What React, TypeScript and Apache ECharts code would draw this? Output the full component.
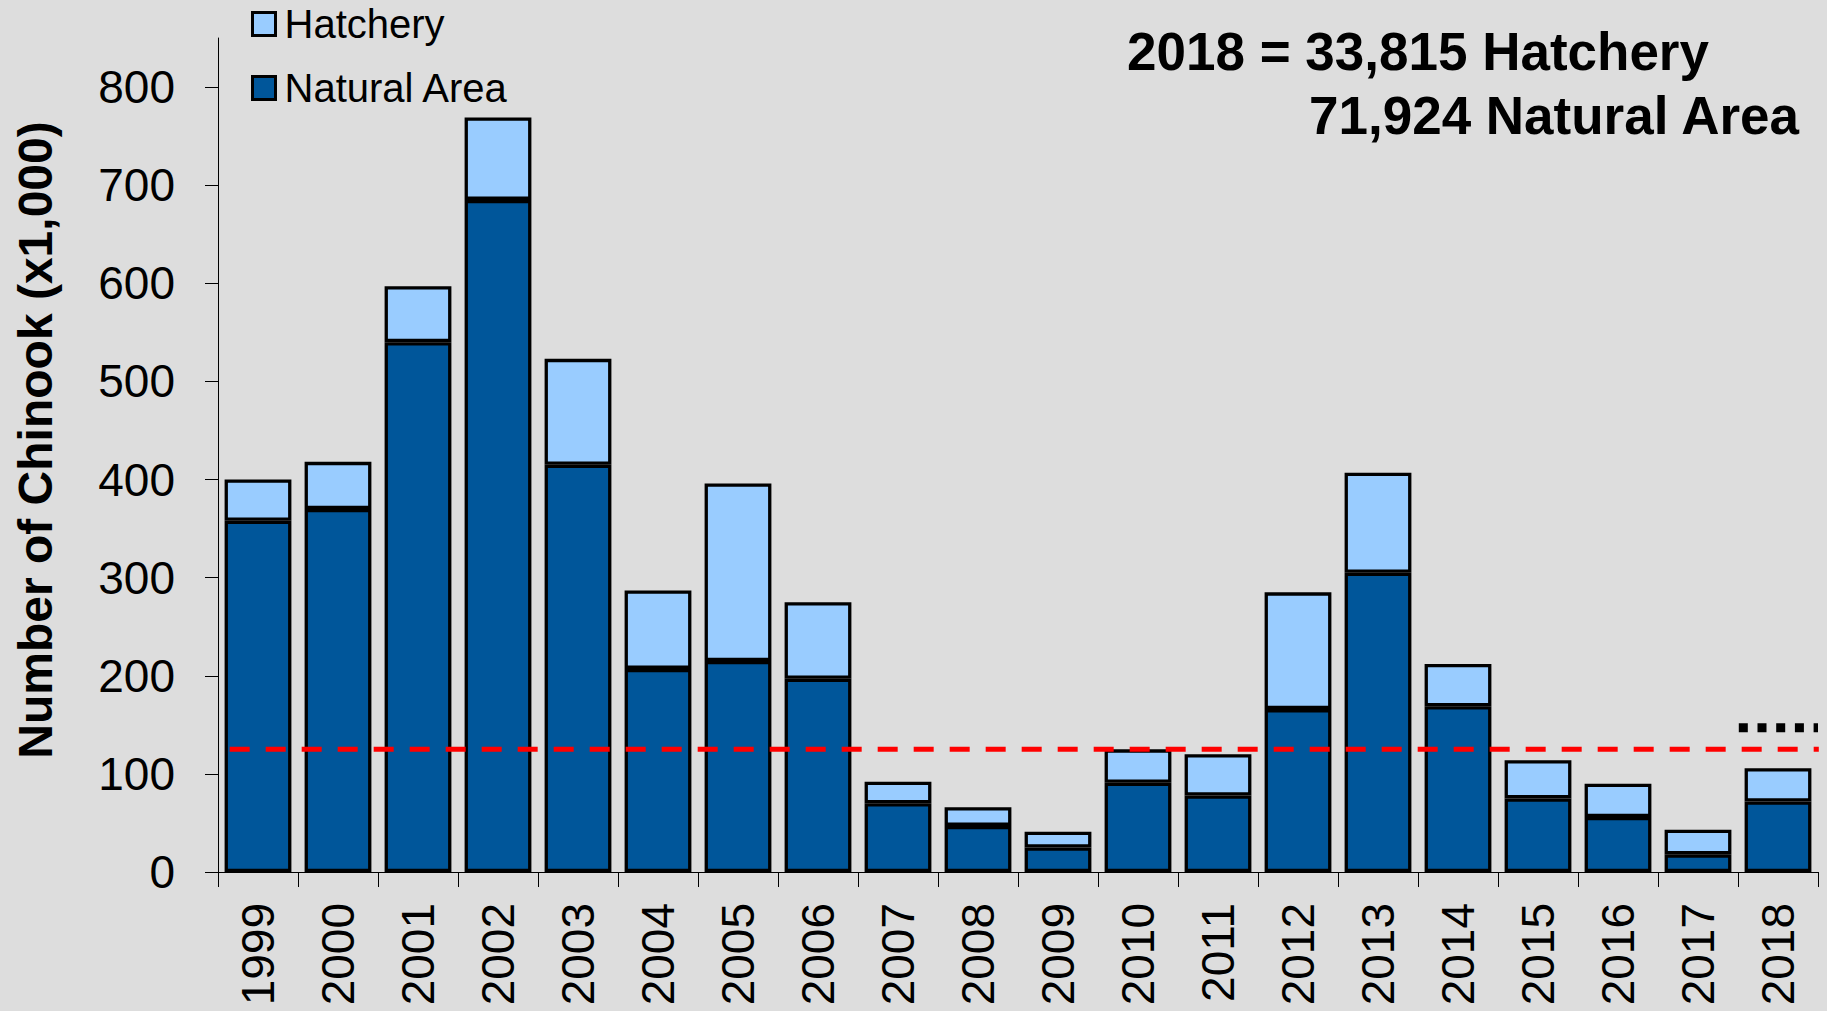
import React, { useEffect, useRef } from "react";
import * as echarts from "echarts";

const years = ["1999", "2000", "2001", "2002", "2003", "2004", "2005", "2006", "2007", "2008", "2009", "2010", "2011", "2012", "2013", "2014", "2015", "2016", "2017", "2018"];
const naturalArea = [358, 370, 540, 685, 415, 207, 215, 197, 70, 47, 25, 91, 78, 166, 305, 169, 75, 56, 18, 71.924];
const hatchery = [42, 48, 57, 84, 108, 80, 181, 78, 22, 19, 16, 34, 42, 119, 102, 43, 39, 34, 25, 33.815];
const yTicks = [0, 100, 200, 300, 400, 500, 600, 700, 800];
const goalLevel = 125;
const dottedLevel = 147;
const annotationLine1 = "2018 = 33,815 Hatchery";
const annotationLine2 = "71,924 Natural Area";

const FONT = '"Liberation Sans", Arial, Helvetica, sans-serif';
const DARK = "#00569A";
const LIGHT = "#99CCFF";

export default function App() {
  const ref = useRef<HTMLDivElement>(null);
  useEffect(() => {
    document.body.style.margin = "0";
    const chart = echarts.init(ref.current!, null, { renderer: "svg" });
    const option: any = {
      animation: false,
      backgroundColor: "#DDDDDD",
      textStyle: { fontFamily: FONT },
      grid: { left: 218, right: 9, top: 38, bottom: 139, containLabel: false },
      legend: {
        orient: "vertical",
        left: 251,
        top: 4,
        padding: 0,
        itemWidth: 23,
        itemHeight: 23,
        itemGap: 24,
        icon: "rect",
        data: ["Hatchery", "Natural Area"],
        textStyle: { fontSize: 40, lineHeight: 40, color: "#000", fontFamily: FONT, padding: [0, 0, 0, 4] },
        itemStyle: { borderColor: "#000", borderWidth: 3 },
      },
      xAxis: {
        type: "category",
        data: years,
        axisLine: { show: true, lineStyle: { color: "#000", width: 1 } },
        axisTick: { show: true, length: 15, lineStyle: { color: "#000", width: 1 } },
        axisLabel: { rotate: 90, fontSize: 46, color: "#000", margin: 31, fontFamily: FONT },
        splitLine: { show: false },
      },
      yAxis: {
        type: "value",
        min: 0,
        max: 850,
        interval: 100,
        name: "Number of Chinook (x1,000)",
        nameLocation: "middle",
        nameGap: 159,
        nameTextStyle: { fontSize: 48, fontWeight: "bold", color: "#000", fontFamily: FONT, lineHeight: 48, padding: [0, 0, 0, 30] },
        axisLine: { show: true, lineStyle: { color: "#000", width: 1 } },
        axisTick: { show: true, length: 13, lineStyle: { color: "#000", width: 1 }, customValues: yTicks },
        axisLabel: {
          fontSize: 46,
          color: "#000",
          margin: 43,
          fontFamily: FONT,
          customValues: yTicks,
          formatter: (v: number) => (v > 800 ? "" : String(v)),
        },
        splitLine: { show: false },
      },
      series: [
        {
          name: "Natural Area",
          type: "bar",
          stack: "total",
          data: naturalArea,
          barCategoryGap: "16.5%",
          itemStyle: { color: DARK, borderColor: "#000", borderWidth: 3.3 },
        },
        {
          name: "Hatchery",
          type: "bar",
          stack: "total",
          data: hatchery,
          barCategoryGap: "16.5%",
          itemStyle: { color: LIGHT, borderColor: "#000", borderWidth: 3.3 },
        },
      ],
    };
    chart.setOption(option);

    const cFirst = chart.convertToPixel({ xAxisIndex: 0 }, years[0]) as number;
    const cSecond = chart.convertToPixel({ xAxisIndex: 0 }, years[1]) as number;
    const cLast = chart.convertToPixel({ xAxisIndex: 0 }, years[years.length - 1]) as number;
    const band = cSecond - cFirst;
    const yGoal = chart.convertToPixel({ yAxisIndex: 0 }, goalLevel) as number;
    const yDot = chart.convertToPixel({ yAxisIndex: 0 }, dottedLevel) as number;

    chart.setOption({
      graphic: [
        {
          id: "goal",
          type: "line",
          z: 100,
          silent: true,
          shape: { x1: cFirst - 0.354 * band, y1: yGoal, x2: cLast + 0.51 * band, y2: yGoal },
          style: { stroke: "#FF0000", lineWidth: 5, lineDash: [20, 16] },
        },
        {
          id: "dotted",
          type: "line",
          z: 100,
          silent: true,
          shape: { x1: cLast - 0.49 * band, y1: yDot, x2: cLast + 0.5 * band, y2: yDot },
          style: { stroke: "#000", lineWidth: 9, lineDash: [9, 9.7] },
        },
        {
          id: "ann1",
          type: "text",
          x: 1127,
          y: 51,
          z: 100,
          style: { text: annotationLine1, font: `bold 53px ${FONT}`, fill: "#000", textAlign: "left", textVerticalAlign: "middle", verticalAlign: "middle" },
        },
        {
          id: "ann2",
          type: "text",
          x: 1309,
          y: 115,
          z: 100,
          style: { text: annotationLine2, font: `bold 53px ${FONT}`, fill: "#000", textAlign: "left", textVerticalAlign: "middle", verticalAlign: "middle" },
        },
      ],
    });

    return () => chart.dispose();
  }, []);
  return <div ref={ref} style={{ width: 1827, height: 1011 }} />;
}
